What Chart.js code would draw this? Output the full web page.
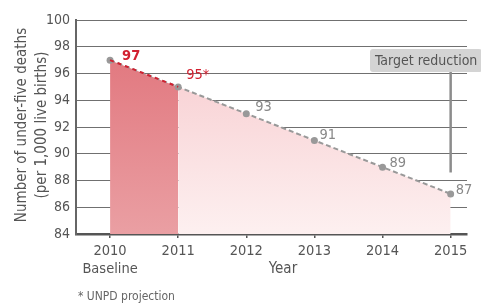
<!DOCTYPE html>
<html>
<head>
<meta charset="utf-8">
<script src="https://cdn.jsdelivr.net/npm/chart.js@4.4.1/dist/chart.umd.min.js"></script>
<style>
  html, body { margin: 0; padding: 0; background: #fff; }
  #wrap { position: relative; width: 481px; height: 303px; }
</style>
</head>
<body>
<div id="wrap"><canvas id="chart" width="481" height="303"></canvas></div>
<script>
// Under-five mortality, baseline and projected target
const years = [2010, 2011, 2012, 2013, 2014, 2015];
const deaths = [97, 95, 93, 91, 89, 87];
const pointLabels = ["97", "95*", "93", "91", "89", "87"];
const yTicks = [84, 86, 88, 90, 92, 94, 96, 98, 100];
const yTitle = ["Number of under-five deaths", "(per 1,000 live births)"];

const FONT = "'DejaVu Sans Condensed', 'Liberation Sans Narrow', sans-serif";
const GREY_TEXT = "#555";
const RED = "#d22030";

const pts = years.map((y, i) => ({ x: y, y: deaths[i] }));

function gradient(ctx, top, bottom) {
  const area = ctx.chart.chartArea;
  if (!area) return top;
  const g = ctx.chart.ctx.createLinearGradient(0, area.top, 0, area.bottom);
  g.addColorStop(0.2, top);
  g.addColorStop(1, bottom);
  return g;
}

const overlay = {
  id: "overlay",
  afterDatasetsDraw(chart) {
    const { ctx, scales, chartArea } = chart;
    const x = scales.x, y = scales.y;
    const meta = chart.getDatasetMeta(2);
    ctx.save();
    ctx.textBaseline = "middle";
    ctx.textAlign = "left";
    meta.data.forEach((p, i) => {
      ctx.fillStyle = i < 2 ? RED : "#888";
      ctx.font = (i === 0 ? "bold " : "") + "14.5px " + FONT;
      const dx = [12, 8, 9, 5, 7, 5][i];
      const dy = [-4, -12, -6, -5, -4, -4][i];
      ctx.fillText(pointLabels[i], p.x + dx, p.y + dy);
    });

    // target reduction marker
    const bx = x.getPixelForValue(2015);
    ctx.strokeStyle = "#8c8c8c";
    ctx.lineWidth = 2.5;
    ctx.beginPath();
    ctx.moveTo(bx, y.getPixelForValue(96.2));
    ctx.lineTo(bx, y.getPixelForValue(88.6));
    ctx.stroke();

    ctx.fillStyle = "#d4d4d4";
    ctx.beginPath();
    ctx.roundRect(370, 49, 112, 23, 3);
    ctx.fill();
    ctx.fillStyle = GREY_TEXT;
    ctx.font = "14px " + FONT;
    ctx.fillText("Target reduction", 375, 61);

    // y axis title
    const cy = (chartArea.top + chartArea.bottom) / 2 - 2;
    ctx.font = "15px " + FONT;
    ctx.textAlign = "center";
    ctx.fillStyle = GREY_TEXT;
    [22, 42].forEach((tx, i) => {
      ctx.save();
      ctx.translate(tx, cy);
      ctx.rotate(-Math.PI / 2);
      ctx.fillText(yTitle[i], 0, 0);
      ctx.restore();
    });

    // x axis title and footnote
    ctx.fillText("Year", 283, 269);
    ctx.textAlign = "left";
    ctx.font = "12px " + FONT;
    ctx.fillStyle = "#666";
    ctx.fillText("* UNPD projection", 78, 297);
    ctx.restore();
  }
};

new Chart(document.getElementById("chart"), {
  type: "line",
  data: {
    datasets: [
      {
        data: pts.slice(0, 2),
        fill: "start",
        borderWidth: 0,
        pointRadius: 0,
        backgroundColor: (c) => gradient(c, "#e27a81", "#ea9fa3"),
        order: 4
      },
      {
        data: pts.slice(1),
        fill: "start",
        borderWidth: 0,
        pointRadius: 0,
        backgroundColor: (c) => gradient(c, "#f8cfd2", "#fdf0f0"),
        order: 3
      },
      {
        data: pts,
        fill: false,
        borderColor: "#999",
        borderWidth: 2,
        borderDash: [5, 3],
        pointRadius: 3.5,
        pointBackgroundColor: "#999",
        pointBorderWidth: 0,
        order: 2
      },
      {
        data: pts.slice(0, 2),
        fill: false,
        borderColor: RED,
        borderWidth: 2,
        borderDash: [4, 4],
        pointRadius: 0,
        order: 1
      }
    ]
  },
  options: {
    responsive: false,
    animation: false,
    layout: { padding: { top: 20, right: 14, left: 0, bottom: 0 } },
    plugins: { legend: { display: false }, tooltip: { enabled: false } },
    scales: {
      x: {
        type: "linear",
        min: 2009.5,
        max: 2015.24,
        afterFit: (s) => { s.height = 69; },
        afterBuildTicks: (s) => { s.ticks = years.map(v => ({ value: v })); },
        grid: { display: true, drawOnChartArea: false, tickLength: 4, color: "#555", lineWidth: 1.5 },
        border: { color: "#555", width: 2.5 },
        ticks: {
          color: GREY_TEXT,
          font: { family: FONT, size: 14.5 },
          padding: 5,
          callback: (v) => v === 2010 ? ["2010", "Baseline"] : String(v)
        }
      },
      y: {
        min: 84,
        max: 100,
        afterFit: (s) => { s.width = 76; },
        afterBuildTicks: (s) => { s.ticks = yTicks.map(v => ({ value: v })); },
        grid: { color: "#707070", lineWidth: 1, drawTicks: false },
        border: { color: "#666", width: 2 },
        ticks: {
          color: GREY_TEXT,
          font: { family: FONT, size: 14 },
          padding: 6
        }
      }
    }
  },
  plugins: [overlay]
});
</script>
</body>
</html>
